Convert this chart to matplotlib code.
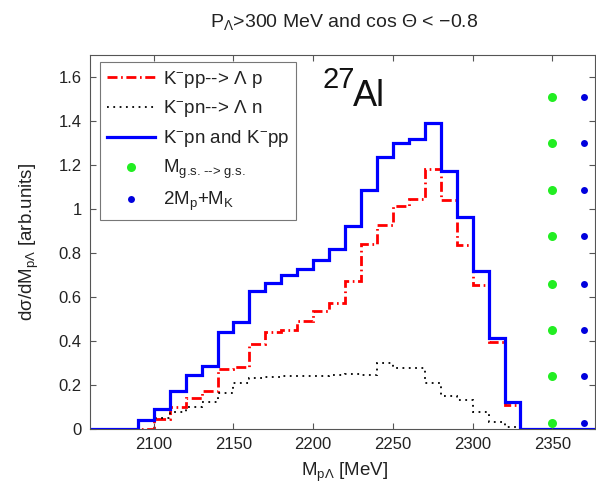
import numpy as np
import matplotlib
matplotlib.use("Agg")
import matplotlib.pyplot as plt

plt.rcParams['font.family'] = ['Liberation Sans', 'DejaVu Sans']
plt.rcParams['mathtext.fontset'] = 'custom'
plt.rcParams['mathtext.rm'] = 'Liberation Sans'
plt.rcParams['mathtext.it'] = 'Liberation Sans'
plt.rcParams['mathtext.default'] = 'regular'

# histogram bins: 10 MeV wide, 2060 .. 2380
edges = np.arange(2060, 2390, 10)

# K-pp --> Lambda p
h_pp = [0, 0, 0, 0, 0.045, 0.10, 0.14, 0.17, 0.27, 0.28, 0.385, 0.44, 0.45,
        0.49, 0.535, 0.572, 0.67, 0.842, 0.928, 1.015, 1.046, 1.183, 1.041,
        0.837, 0.655, 0.397, 0.11, 0, 0, 0, 0, 0]
# K-pn --> Lambda n
h_pn = [0, 0, 0, 0.04, 0.05, 0.075, 0.10, 0.12, 0.165, 0.21, 0.23, 0.235, 0.24,
        0.24, 0.24, 0.245, 0.25, 0.245, 0.30, 0.275, 0.275, 0.21, 0.15,
        0.13, 0.075, 0.03, 0.01, 0, 0, 0, 0, 0]
# K-pn and K-pp
h_tot = [0, 0, 0, 0.04, 0.09, 0.17, 0.245, 0.286, 0.44, 0.486, 0.627, 0.664, 0.70,
         0.728, 0.769, 0.817, 0.923, 1.084, 1.236, 1.30, 1.318, 1.391, 1.174,
         0.963, 0.719, 0.412, 0.12, 0, 0, 0, 0, 0]

# thresholds
m_gs = 2350.0
m_2pk = 2370.0
dot_y = [0.025, 0.24, 0.45, 0.66, 0.875, 1.085, 1.30, 1.51]

xticks = [2100, 2150, 2200, 2250, 2300, 2350]
yticks = [0, 0.2, 0.4, 0.6, 0.8, 1, 1.2, 1.4, 1.6]

W, H = 596, 492
fig = plt.figure(figsize=(W / 100, H / 100), dpi=100)
ax = fig.add_axes([90 / W, (H - 428.8) / H, 505.4 / W, 373.8 / H])

ax.stairs(h_pp, edges, color='#ff0000', lw=2.0,
          linestyle=(0, (3.6, 1.3, 0.6, 1.3)), label=r'K$^{-}$pp--> Λ p')
ax.stairs(h_pn, edges, color='black', lw=1.3,
          linestyle=(0, (1, 2.5)), label=r'K$^{-}$pn--> Λ n')
ax.stairs(h_tot, edges, color='#0000ff', lw=2.3, label=r'K$^{-}$pn and K$^{-}$pp')
ax.plot([m_gs] * len(dot_y), dot_y, 'o', color='#22ee22', ms=6.5, mec='none',
        ls='none', label=r'M$_{\text{g.s. --> g.s.}}$')
ax.plot([m_2pk] * len(dot_y), dot_y, 'o', color='#0000dd', ms=5, mec='none',
        ls='none', label=r'2M$_{p}$+M$_{K}$')

ax.set_xlim(2060, 2377)
ax.set_ylim(0, 1.7)
ax.set_xticks(xticks)
ax.set_yticks(yticks)
ax.set_yticklabels(['0', '0.2', '0.4', '0.6', '0.8', '1', '1.2', '1.4', '1.6'])
ax.tick_params(direction='in', top=True, right=True, length=4, width=0.8,
               color='#555555', labelsize=12, labelcolor='#222222')
ax.tick_params(axis='x', pad=6)
ax.tick_params(axis='y', pad=6)
for s in ax.spines.values():
    s.set_color('#555555')
    s.set_linewidth(0.8)

leg = ax.legend(loc='upper left', bbox_to_anchor=(0.0198, 0.981), borderaxespad=0,
                fontsize=13.5, frameon=True, fancybox=False, handlelength=2.6,
                handletextpad=0.4, labelspacing=0.47, borderpad=0.35)
leg.get_frame().set_edgecolor('#555555')
leg.get_frame().set_linewidth(0.8)
for t in leg.get_texts():
    t.set_color('#222222')

fig.text(344 / W, 1 - 27 / H, r'P$_{Λ}$>300 MeV and cos Θ < −0.8',
         ha='center', va='baseline', fontsize=14, color='#222222')
fig.text(345 / W, 1 - 476 / H, r'M$_{pΛ}$ [MeV]', ha='center', va='baseline',
         fontsize=13.5, color='#222222')
fig.text(29 / W, 0.5 * ((H - 428.8) / H + (H - 55) / H),
         r'dσ/dM$_{pΛ}$ [arb.units]', rotation=90, ha='center', va='center',
         fontsize=13.5, color='#222222')

fig.text(322 / W, 1 - 88 / H, '27', ha='left', va='baseline', fontsize=21,
         color='#111111')
fig.text(353 / W, 1 - 106 / H, 'Al', ha='left', va='baseline', fontsize=26,
         color='#111111')

fig.savefig('out.png', dpi=100)
